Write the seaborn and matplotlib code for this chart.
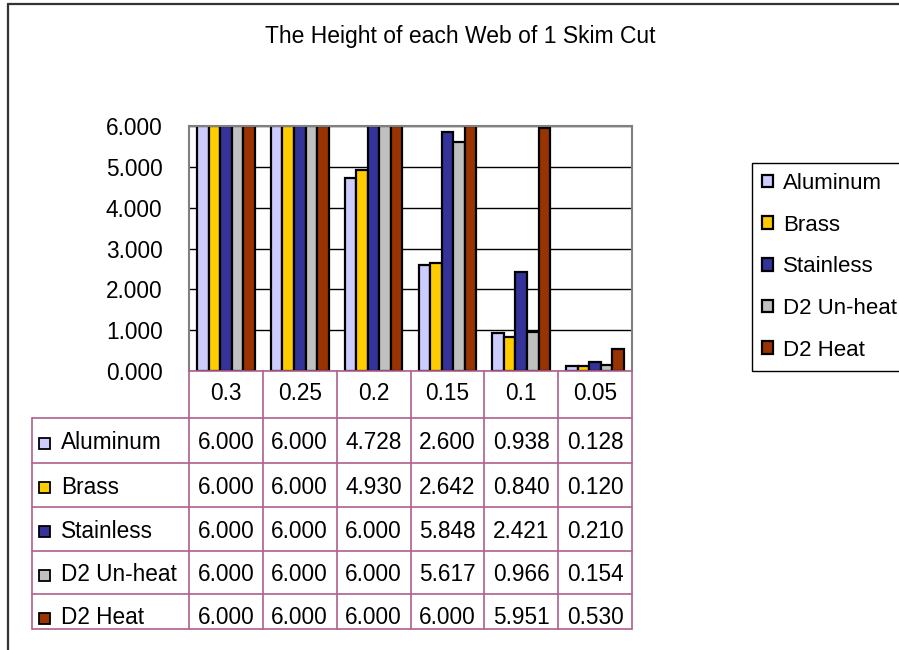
import matplotlib
matplotlib.use("Agg")
import matplotlib.pyplot as plt
import matplotlib.transforms as mtransforms
from matplotlib.lines import Line2D
from matplotlib.patches import Rectangle
import numpy as np
import pandas as pd
import seaborn as sns

# ---- data ----
cut_depths = ["0.3", "0.25", "0.2", "0.15", "0.1", "0.05"]
materials = ["Aluminum", "Brass", "Stainless", "D2 Un-heat", "D2 Heat"]
aluminum = [6.000, 6.000, 4.728, 2.600, 0.938, 0.128]
brass = [6.000, 6.000, 4.930, 2.642, 0.840, 0.120]
stainless = [6.000, 6.000, 6.000, 5.848, 2.421, 0.210]
d2_unheat = [6.000, 6.000, 6.000, 5.617, 0.966, 0.154]
d2_heat = [6.000, 6.000, 6.000, 6.000, 5.951, 0.530]
y_ticks = [0, 1, 2, 3, 4, 5, 6]

series = [aluminum, brass, stainless, d2_unheat, d2_heat]
colors = ["#CCCCFF", "#FFCC00", "#333399", "#C0C0C0", "#993300"]

df = pd.DataFrame({
    "depth": np.tile(cut_depths, len(materials)),
    "material": np.repeat(materials, len(cut_depths)),
    "height": np.concatenate(series),
})

sns.set_theme(style="white")
plt.rcParams["font.family"] = ["Liberation Sans", "DejaVu Sans"]
plt.rcParams["text.color"] = "black"
plt.rcParams["ytick.color"] = "black"
plt.rcParams["ytick.labelcolor"] = "black"

W, H = 899, 650
fig = plt.figure(figsize=(W / 100, H / 100), dpi=100)

def fx(px):
    return px / W

def fy(py):
    return 1 - py / H

FS = 16.3

# plot area in pixel layout
L, R, T, B = 189, 632, 126, 371
ax = fig.add_axes([fx(L), fy(B), fx(R - L), (B - T) / H])

sns.barplot(data=df, x="depth", y="height", hue="material",
            order=cut_depths, hue_order=materials, palette=colors,
            width=0.78, gap=0, edgecolor="black", linewidth=1.6,
            saturation=1, ax=ax, errorbar=None)

ax.set_xlim(-0.5, len(cut_depths) - 0.5)
ax.set_ylim(0, 6)
ax.set_yticks(y_ticks)
ax.set_yticklabels([f"{v:.3f}" for v in y_ticks], fontsize=FS)
ax.tick_params(axis="y", length=0, pad=19)
ax.set_xticks([])
ax.set_xlabel("")
ax.set_ylabel("")
ax.yaxis.grid(True, color="black", linewidth=1)
ax.set_axisbelow(True)
for side in ["left", "right", "top"]:
    ax.spines[side].set_color("#808080")
    ax.spines[side].set_linewidth(1.5)
ax.spines["bottom"].set_visible(False)

# legend on the right
handles, labels = ax.get_legend_handles_labels()
leg = ax.legend(handles, labels, loc="upper left",
                bbox_to_anchor=(fx(752), fy(163)), bbox_transform=fig.transFigure,
                borderaxespad=0, fontsize=16, frameon=True, fancybox=False,
                handlelength=0.5, handleheight=0.5, handletextpad=0.45,
                labelspacing=0.93, borderpad=0.45)
leg.get_frame().set_edgecolor("black")
leg.get_frame().set_linewidth(1)
leg.get_frame().set_alpha(1)
for h in leg.legend_handles:
    h.set_linewidth(1.6)

# data table below the plot
tcol = "#B0608F"
trans = mtransforms.blended_transform_factory(ax.transData, fig.transFigure)
row_lines = [418, 463, 507, 551, 594, 629]
label_left = 32

# header row with the cut depths
fig.add_artist(Line2D([fx(L), fx(R)], [fy(B), fy(B)], color=tcol, lw=1.2,
                      transform=fig.transFigure))
for j, d in enumerate(cut_depths):
    ax.text(j, fy((B + row_lines[0]) / 2 - 1), d, transform=trans,
            ha="center", va="center", fontsize=FS, clip_on=False)
# vertical column lines
for j in range(len(cut_depths) + 1):
    ax.add_artist(Line2D([j - 0.5, j - 0.5], [fy(B), fy(row_lines[-1])],
                         color=tcol, lw=1.2, transform=trans, clip_on=False))
fig.add_artist(Line2D([fx(label_left), fx(label_left)],
                      [fy(row_lines[0]), fy(row_lines[-1])], color=tcol, lw=1.2,
                      transform=fig.transFigure))
# horizontal row lines
for yl in row_lines:
    fig.add_artist(Line2D([fx(label_left), fx(R)], [fy(yl), fy(yl)], color=tcol,
                          lw=1.2, transform=fig.transFigure))

# rows: legend key, material name and the values
for i, (name, vals, c) in enumerate(zip(materials, series, colors)):
    yc = (row_lines[i] + row_lines[i + 1]) / 2 + (2 if i < 4 else 6)
    fig.add_artist(Rectangle((fx(39), fy(yc + 6)), fx(11), 11 / H,
                             facecolor=c, edgecolor="black", lw=1.3,
                             transform=fig.transFigure))
    fig.text(fx(61), fy(yc), name, ha="left", va="center", fontsize=FS)
    for j, v in enumerate(vals):
        ax.text(j, fy(yc), f"{v:.3f}", transform=trans, ha="center",
                va="center", fontsize=FS, clip_on=False)

# title
fig.text(fx(460), fy(37), "The Height of each Web of 1 Skim Cut",
         ha="center", va="center", fontsize=16.5)

# outer chart border
fig.add_artist(Line2D([fx(8), fx(8)], [fy(4), 0], color="#333333", lw=1.6,
                      transform=fig.transFigure))
fig.add_artist(Line2D([fx(8), 1], [fy(4), fy(4)], color="#333333", lw=1.6,
                      transform=fig.transFigure))

fig.savefig("out.png", dpi=100)
